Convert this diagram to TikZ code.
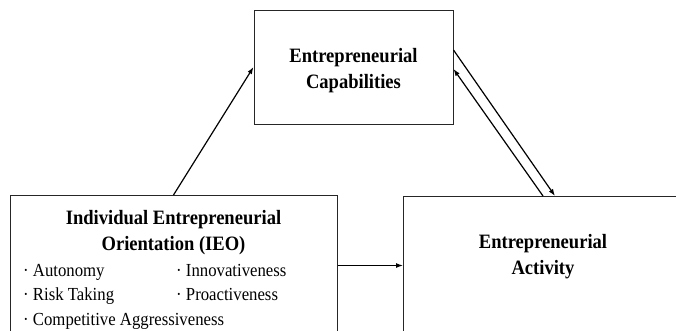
\documentclass[tikz,border=0pt]{standalone}
\usepackage{fontspec}
\setmainfont[FakeStretch=0.91]{Liberation Serif}
\usetikzlibrary{positioning,arrows.meta}

\begin{document}
\begin{tikzpicture}[x=1pt,y=-1pt,
    box/.style={rectangle,draw=black!85,line width=1pt,inner sep=0pt},
    head/.style={align=center,font=\fontsize{20.4}{26}\selectfont\bfseries},
    item/.style={anchor=base west,inner sep=0pt,font=\fontsize{18.4}{25}\selectfont},
    link/.style={-{Latex[length=7pt,width=5pt]},line width=1.2pt}]
      \useasboundingbox (0,0) rectangle (676,330);
      \clip (0,0) rectangle (676,330);
      % main modules
      \node[box,minimum width=199pt,minimum height=114pt] (cap) at (353.5,67) {};
      \node[box,minimum width=327pt,minimum height=140pt,anchor=north] (ieo) at (173.5,195) {};
      \node[box,minimum width=290pt,minimum height=140pt,anchor=north west] (act) at (403,196) {};
      % texts in the boxes
      \node[head] (captitle) at (353.5,71) {Entrepreneurial\\Capabilities};
      \node[head] (ieotitle) at (173.5,233) {Individual Entrepreneurial\\Orientation (IEO)};
      \node[item] (auto) at (23,276) {·\ Autonomy};
      \node[item] (inno) at (176,276) {·\ Innovativeness};
      \node[item] (risk) at (23,300) {·\ Risk Taking};
      \node[item] (proa) at (176,300) {·\ Proactiveness};
      \node[item] (comp) at (23,325) {·\ Competitive Aggressiveness};
      \node[head] (acttitle) at (543,257) {Entrepreneurial\\Activity};
      % arrows
      \coordinate (capout) at ([yshift=17pt]cap.east);
      \coordinate (capin)  at ([yshift=-2pt]cap.east);
      \coordinate (actin)  at ([xshift=152pt]act.north west);
      \coordinate (actout) at ([xshift=140pt]act.north west);
      \draw[link] (ieo.north) -- (cap.west);
      \draw[link] (capout) -- (actin);
      \draw[link] (actout) -- (capin);
      \draw[link] (ieo.east) -- (ieo.east -| act.west);
\end{tikzpicture}
\end{document}
